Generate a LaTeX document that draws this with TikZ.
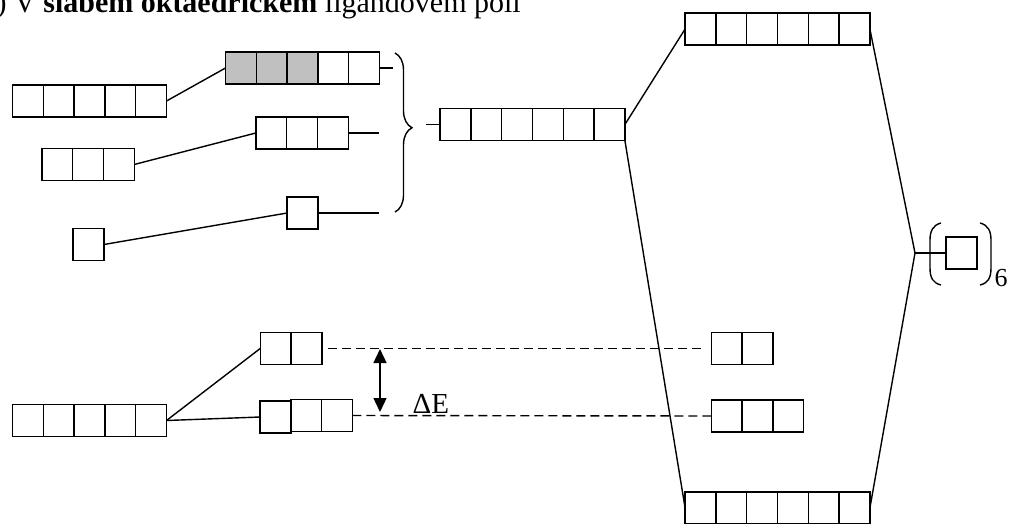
\documentclass[tikz,border=0pt]{standalone}
\usepackage{fontspec}
\setmainfont{Liberation Serif}
\usetikzlibrary{decorations.pathreplacing,arrows.meta}
\definecolor{silver}{RGB}{192,192,192}
\def\cw{30.8pt}
\def\ch{32pt}
\def\shadeN{0}
\newcommand\cellsdraw[1]{%
  \ifnum\shadeN>0
    \fill[silver] (path picture bounding box.south west) rectangle ([xshift=\shadeN*\cw]path picture bounding box.north west);
  \fi
  \ifnum#1>1
    \foreach \i in {2,...,#1}{\draw ([xshift=(\i-1)*\cw]path picture bounding box.south west) -- ([xshift=(\i-1)*\cw]path picture bounding box.north west);}
  \fi}
\begin{document}
\begin{tikzpicture}[x=1pt,y=-1pt,line width=1.4pt,
  cells/.style={draw,inner sep=0pt,outer sep=0pt,minimum width=#1*\cw,minimum height=\ch,path picture={\cellsdraw{#1}}},
  shaded/.code={\def\shadeN{#1}},
  level/.style={dash pattern=on 9pt off 5pt},
  gap/.style={{Triangle[length=14pt,width=13pt]}-{Triangle[length=14pt,width=13pt]}},
  lbl/.style={inner sep=0pt,anchor=base west}]
\useasboundingbox (0,0) rectangle (1015,523);
% title
\node[lbl,font=\fontsize{30}{34}\selectfont] (title) at (-19,12) {b) V \textbf{slabém oktaedrickém} ligandovém poli};
% free ion orbitals
\node[cells=5] (A) at (89.5,101) {};
\node[cells=3] (B) at (88,164.5) {};
\node[cells=1] (C) at (88.5,244.5) {};
\node[cells=5,shaded=3] (G) at (302.5,68) {};
\node[cells=3] (T) at (302,133) {};
\node[cells=1] (S) at (302.5,213) {};
\node[cells=6] (M) at (532.5,124.5) {};
\node[cells=6] (U) at (777.5,29) {};
\node[cells=6] (D) at (777.5,508) {};
\node[cells=1] (K) at (961.5,253) {};
% crystal field splitting
\node[cells=5] (E) at (89.5,420.5) {};
\node[cells=2] (Eg) at (291,348.5) {};
\node[cells=1] (Ta) at (275.5,417) {};
\node[cells=2] (Tb) at (321.5,415.5) {};
\node[cells=2] (Egr) at (742,348.5) {};
\node[cells=3] (Tr) at (757.5,416) {};
% coordinates
\coordinate (gE) at (393,68);
\coordinate (tE) at (379,133);
\coordinate (sE) at (379,213);
\coordinate (bt) at (395,53);
\coordinate (bb) at (395,212);
\coordinate (mW) at (426,124.5);
\coordinate (L) at (915,253);
\coordinate (dEt) at (380,349);
\coordinate (dEb) at (380,412);
% connectors
\draw (A.east) -- (G.west);
\draw (B.east) -- (T.west);
\draw (C.east) -- (S.west);
\draw (G.east) -- (gE);
\draw (T.east) -- (tE);
\draw (S.east) -- (sE);
\draw[decorate,decoration={brace,amplitude=17pt,aspect=0.47}] (bt) -- (bb);
\draw (mW) -- (M.west);
\draw (M.east) -- (U.west);
\draw (M.south east) -- (D.west);
\draw (U.east) -- (L) -- (D.east);
\draw (L) -- (K.west);
% parentheses around ligand orbital
\draw (941,223) .. controls (933,225) and (930,231) .. (930,240) -- (930,268) .. controls (930,278) and (933,283) .. (941,285);
\draw (980,223) .. controls (988,225) and (991,231) .. (991,240) -- (991,268) .. controls (991,278) and (988,283) .. (980,285);
\node[lbl,font=\fontsize{26}{30}\selectfont] (six) at (994,286) {6};
% splitting
\draw (E.east) -- (Eg.west);
\draw (E.east) -- (Ta.west);
\draw[level,shorten <=6pt,shorten >=9pt] (Eg.east) -- (Egr.west);
\draw[level] (Tb.east) -- (Tr.west);
\draw[gap] (dEt) -- (dEb);
\node[lbl,font=\fontsize{29}{32}\selectfont] (dE) at (412,413) {ΔE};
\end{tikzpicture}
\end{document}
